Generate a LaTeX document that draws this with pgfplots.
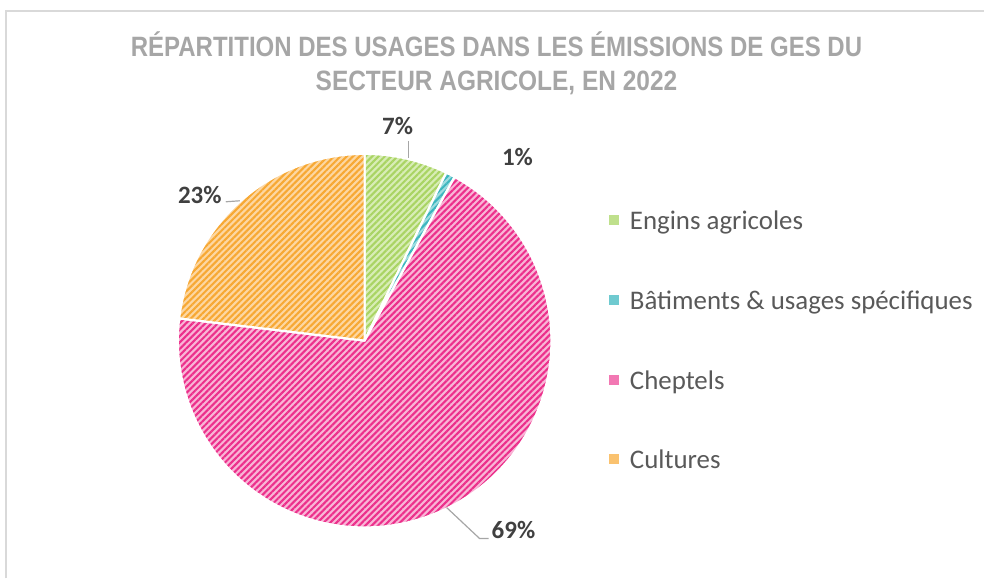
\documentclass[border=0pt]{standalone}
\usepackage{pgfplots}
\pgfplotsset{compat=1.18}
\usepackage{pgfplotstable}
\usetikzlibrary{patterns.meta}
\usepackage{graphicx}
\usepackage{fontspec}
\setmainfont{Carlito}
\newfontfamily\titlefont{Liberation Sans}

\definecolor{titlegray}{HTML}{A6A6A6}
\definecolor{labgray}{HTML}{404040}
\definecolor{leggray}{HTML}{595959}
\definecolor{framegray}{HTML}{D9D9D9}
\definecolor{leadgray}{HTML}{A6A6A6}
\definecolor{greenL}{HTML}{D8EDB6}
\definecolor{greenD}{HTML}{A9D463}
\definecolor{tealL}{HTML}{9EDCE0}
\definecolor{tealD}{HTML}{3CB6BF}
\definecolor{pinkL}{HTML}{F9B5D6}
\definecolor{pinkD}{HTML}{EC2F8B}
\definecolor{orangeL}{HTML}{FDD7A2}
\definecolor{orangeD}{HTML}{F7A833}
\definecolor{greenM}{HTML}{BFE08C}
\definecolor{tealM}{HTML}{6FCAD0}
\definecolor{pinkM}{HTML}{F278B3}
\definecolor{orangeM}{HTML}{FAC26F}

\pgfplotstableread{
id value
1 7.2
2 0.8
3 68.9
4 23.1
}\piedata

\newcommand\pieslice[4]{%
  \fill[#3] (axis cs:365,238) -- ++(#1:187pt) arc[start angle=#1,end angle=#2,radius=187pt] -- cycle;
  \fill[pattern={Lines[angle=45,distance=4.5pt,line width=2.1pt]},pattern color=#4]
    (axis cs:365,238) -- ++(#1:187pt) arc[start angle=#1,end angle=#2,radius=187pt] -- cycle;
  \draw[white,line width=2.2pt,line join=round]
    (axis cs:365,238) -- ++(#1:187pt) arc[start angle=#1,end angle=#2,radius=187pt] -- cycle;
}

\begin{document}
\begin{tikzpicture}
\pgfplotstablegetelem{0}{value}\of\piedata \pgfmathsetmacro\vA{\pgfplotsretval}
\pgfplotstablegetelem{1}{value}\of\piedata \pgfmathsetmacro\vB{\pgfplotsretval}
\pgfplotstablegetelem{2}{value}\of\piedata \pgfmathsetmacro\vC{\pgfplotsretval}
\pgfplotstablegetelem{3}{value}\of\piedata \pgfmathsetmacro\vD{\pgfplotsretval}
\pgfmathsetmacro\aA{90}
\pgfmathsetmacro\aB{\aA-3.6*\vA}
\pgfmathsetmacro\aC{\aB-3.6*\vB}
\pgfmathsetmacro\aD{\aC-3.6*\vC}
\pgfmathsetmacro\aE{\aD-3.6*\vD}
\begin{axis}[
  x=1pt, y=1pt, xmin=0, xmax=985, ymin=0, ymax=579,
  hide axis, clip=false,
  legend cell align=left,
  legend style={
    at={(axis cs:609,367)}, anchor=north west,
    draw=none, fill=none, inner sep=0pt,
    font=\fontsize{26.9}{30}\selectfont, text=leggray,
    nodes={inner sep=0pt, text height=18pt, text depth=6pt},
    row sep=55.7pt,
    /tikz/every odd column/.append style={column sep=12pt},
  },
]
\path (axis cs:0,0) rectangle (axis cs:985,579);
% frame
\draw[framegray,line width=2pt] (axis cs:6,0) -- (axis cs:6,568) -- (axis cs:985,568);

\pieslice{\aA}{\aB}{greenL}{greenD}
\pieslice{\aB}{\aC}{tealL}{tealD}
\pieslice{\aC}{\aD}{pinkL}{pinkD}
\pieslice{\aD}{\aE}{orangeL}{orangeD}

% leader lines
\draw[leadgray,line width=1.2pt] (axis cs:409,438) -- (axis cs:409,421);
\draw[leadgray,line width=1.2pt] (axis cs:226,377) -- (axis cs:240,378);
\draw[leadgray,line width=1.2pt] (axis cs:447,71) -- (axis cs:480,40) -- (axis cs:489,40);

% data labels
\node[labgray,font=\fontsize{25}{30}\selectfont\bfseries] at (axis cs:398,453) {7\%};
\node[labgray,font=\fontsize{25}{30}\selectfont\bfseries] at (axis cs:518,422) {1\%};
\node[labgray,font=\fontsize{25}{30}\selectfont\bfseries] at (axis cs:200,384) {23\%};
\node[labgray,font=\fontsize{25}{30}\selectfont\bfseries] at (axis cs:514,48) {69\%};

% title
\node[titlegray,anchor=base,inner sep=0pt] at (axis cs:497,522)
  {\resizebox{732pt}{\height}{\titlefont\bfseries\fontsize{28}{30}\selectfont R\'EPARTITION DES USAGES DANS LES \'EMISSIONS DE GES DU}};
\node[titlegray,anchor=base,inner sep=0pt] at (axis cs:497,488)
  {\resizebox{362pt}{\height}{\titlefont\bfseries\fontsize{28}{30}\selectfont SECTEUR AGRICOLE, EN 2022}};

\addlegendimage{legend image code/.code={\fill[greenM] (0pt,-0.5pt) rectangle (9pt,8.5pt);}}
\addlegendentry{Engins agricoles}
\addlegendimage{legend image code/.code={\fill[tealM] (0pt,-0.5pt) rectangle (9pt,8.5pt);}}
\addlegendentry{Bâtiments \& usages spécifiques}
\addlegendimage{legend image code/.code={\fill[pinkM] (0pt,-0.5pt) rectangle (9pt,8.5pt);}}
\addlegendentry{Cheptels}
\addlegendimage{legend image code/.code={\fill[orangeM] (0pt,-0.5pt) rectangle (9pt,8.5pt);}}
\addlegendentry{Cultures}
\end{axis}
\end{tikzpicture}
\end{document}
